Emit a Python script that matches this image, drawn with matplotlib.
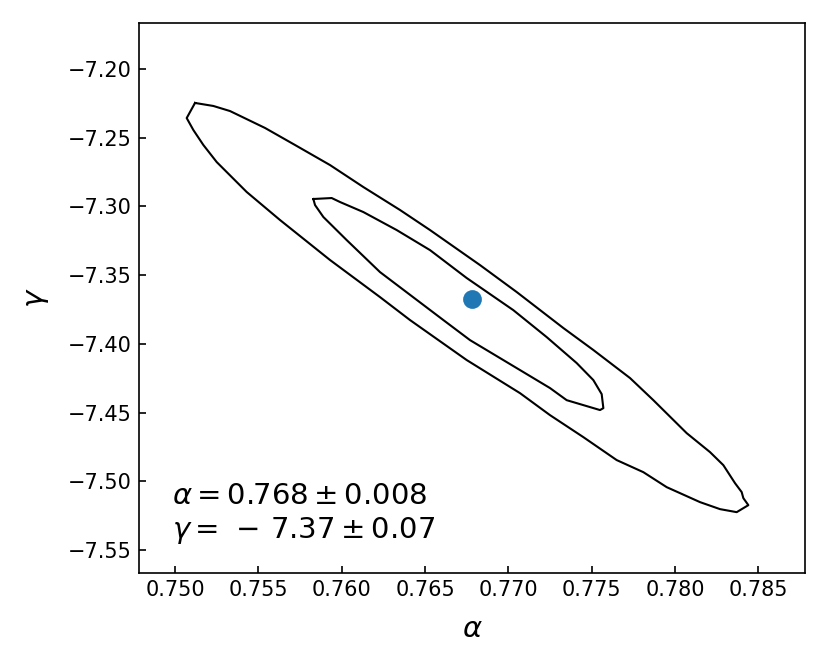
"""
Confidence contours for the (alpha, gamma) fit.
"""

import matplotlib
matplotlib.use('Agg')
import matplotlib.pyplot as plt

# outer (2 sigma) contour
outer_alpha = [0.7512, 0.7523, 0.7533, 0.7554, 0.7572, 0.7593, 0.7613, 0.7635,
               0.7653, 0.7683, 0.7705, 0.7733, 0.7751, 0.7773, 0.7787, 0.7807,
               0.7821, 0.7829, 0.7836, 0.7840, 0.7841, 0.7844, 0.7837, 0.7827,
               0.7815, 0.7795, 0.7781, 0.7765, 0.7745, 0.7725, 0.7707, 0.7675,
               0.7641, 0.7623, 0.7593, 0.7563, 0.7543, 0.7525, 0.7517, 0.7511,
               0.7507, 0.7512]
outer_gamma = [-7.2247, -7.2269, -7.2306, -7.2429, -7.2553, -7.2699, -7.2859, -7.3026,
               -7.3172, -7.3427, -7.3623, -7.3885, -7.4045, -7.4249, -7.4410, -7.4650,
               -7.4788, -7.4883, -7.5014, -7.5079, -7.5123, -7.5174, -7.5225, -7.5203,
               -7.5152, -7.5043, -7.4934, -7.4846, -7.4679, -7.4519, -7.4359, -7.4118,
               -7.3827, -7.3660, -7.3390, -7.3099, -7.2895, -7.2677, -7.2553, -7.2444,
               -7.2357, -7.2247]

# inner (1 sigma) contour
inner_alpha = [0.7583, 0.7594, 0.7599, 0.7613, 0.7633, 0.7653, 0.7675, 0.7703,
               0.7723, 0.7741, 0.7751, 0.7756, 0.7757, 0.7755, 0.7745, 0.7735,
               0.7725, 0.7707, 0.7677, 0.7661, 0.7623, 0.7603, 0.7589, 0.7584,
               0.7583]
inner_gamma = [-7.2946, -7.2939, -7.2968, -7.3041, -7.3172, -7.3318, -7.3521, -7.3755,
               -7.3951, -7.4140, -7.4264, -7.4366, -7.4468, -7.4482, -7.4446, -7.4410,
               -7.4322, -7.4191, -7.3973, -7.3827, -7.3478, -7.3245, -7.3077, -7.2990,
               -7.2946]

# best fit
best_alpha = 0.7678
best_gamma = -7.3674
fit_text = "$\\alpha = 0.768 \\pm 0.008$\n$\\gamma = \\,-\\, 7.37 \\pm 0.07$"

fig = plt.figure(figsize=(830 / 150, 664 / 150), dpi=150)
ax = fig.add_axes([0.1675, 0.137, 0.8024, 0.8284])

ax.plot(outer_alpha, outer_gamma, color='k', lw=1.0)
ax.plot(inner_alpha, inner_gamma, color='k', lw=1.0)
ax.plot(best_alpha, best_gamma, 'o', color='C0', markersize=8)

ax.text(0.05, 0.05, fit_text, transform=ax.transAxes, fontsize=14,
        ha='left', va='bottom')

ax.set_xlim(0.74784, 0.7878)
ax.set_ylim(-7.5668, -7.1665)
ax.set_xticks([0.750, 0.755, 0.760, 0.765, 0.770, 0.775, 0.780, 0.785])
ax.set_yticks([-7.55, -7.50, -7.45, -7.40, -7.35, -7.30, -7.25, -7.20])
ax.tick_params(direction='in')
ax.set_xlabel('$\\alpha$', fontsize=14, labelpad=7)
ax.set_ylabel('$\\gamma$', fontsize=14, labelpad=8)

fig.savefig('out.png', dpi=150)
